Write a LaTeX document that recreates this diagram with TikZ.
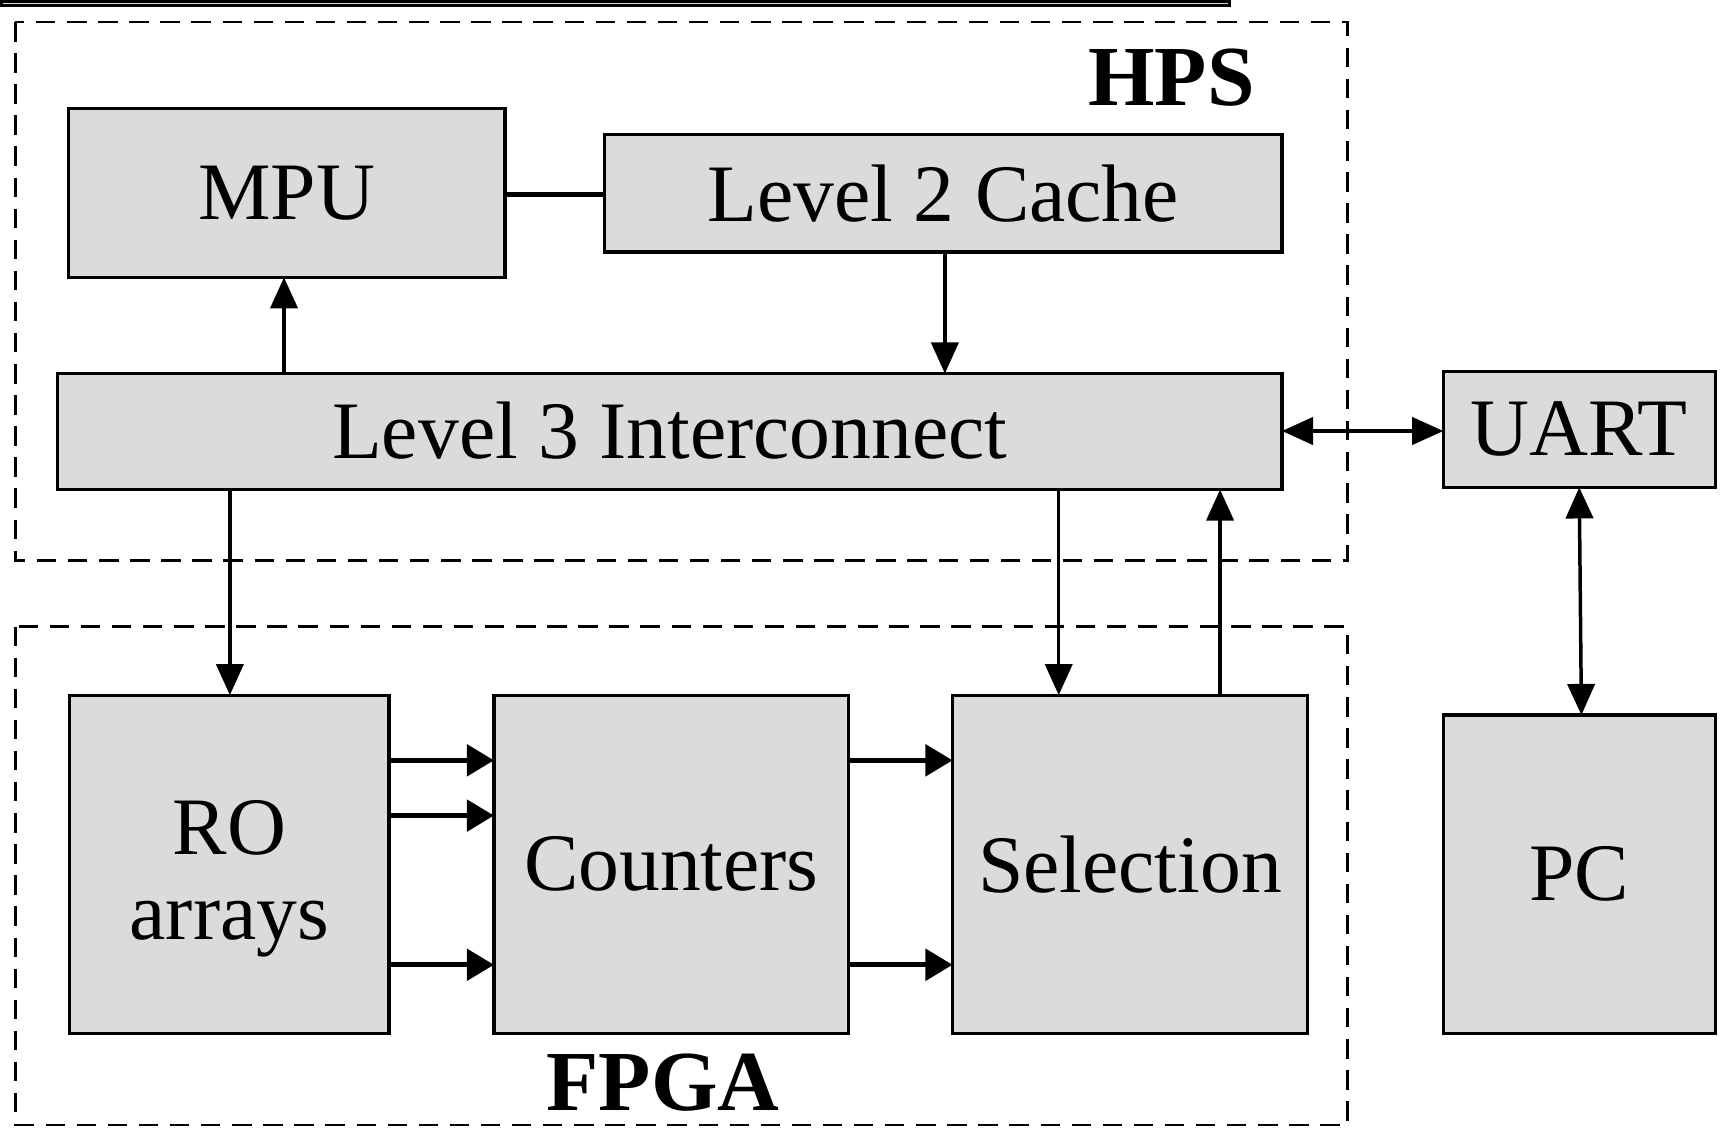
\documentclass[tikz,border=0pt]{standalone}
\usepackage{fontspec}
\setmainfont{Liberation Serif}
\usetikzlibrary{arrows.meta}
\begin{document}
\begin{tikzpicture}[x=0.01cm,y=-0.01cm,
 box/.style={draw,fill=gray!28,line width=0.8pt,font=\fontsize{21}{24}\selectfont,align=center,inner sep=0},
 grp/.style={draw,dashed,line width=0.7pt,dash pattern=on 5pt off 3pt},
 arr/.style={line width=0.9pt,-{Triangle[length=8pt,width=7pt]}},
 darr/.style={line width=0.9pt,{Triangle[length=8pt,width=7pt]}-{Triangle[length=8pt,width=7pt]}},
 barr/.style={line width=1.4pt,-{Triangle[length=7pt,width=8pt]}},
 lbl/.style={font=\fontsize{22}{24}\selectfont\bfseries}]
\useasboundingbox (0,0) rectangle (1560,1028);
\draw[grp] (14,20) rectangle (1219,507);
\draw[grp] (14,567) rectangle (1219,1018);
\node[lbl] (hps) at (1060,70) {HPS};
\node[lbl] (fpga) at (600,980) {FPGA};
\node[box,minimum width=395\pgflinewidth,anchor=north west] at (0,0) {};
\path[box] (62,98) rectangle (457,251); \node[box,draw=none,fill=none] (MPU) at (259.5,174.5) {MPU};
\path (62,98) coordinate (MPUnw) (457,251) coordinate (MPUse);
\draw[box] (62,98) rectangle (457,251);
\node[font=\fontsize{21}{24}\selectfont] at (259.5,174.5) {MPU};
\draw[box] (547,122) rectangle (1160,228); \node[font=\fontsize{21}{24}\selectfont] (L2) at (853.5,175) {Level 2 Cache};
\draw[box] (52,338) rectangle (1160,443); \node[font=\fontsize{21}{24}\selectfont] (L3) at (606,390) {Level 3 Interconnect};
\draw[box] (1306,336) rectangle (1552,441); \node[font=\fontsize{21}{24}\selectfont] (UART) at (1429,388) {UART};
\draw[box] (1306,647) rectangle (1552,935); \node[font=\fontsize{21}{24}\selectfont] (PC) at (1429,791) {PC};
\draw[box] (63,629) rectangle (352,935); \node[font=\fontsize{21}{24}\selectfont,align=center] (RO) at (207.5,795) {RO\\[-2pt]arrays};
\draw[box] (447,629) rectangle (768,935); \node[font=\fontsize{21}{24}\selectfont] (CNT) at (607.5,782) {Counters};
\draw[box] (862,629) rectangle (1183,935); \node[font=\fontsize{21}{24}\selectfont] (SEL) at (1022.5,782) {Selection};
\draw[line width=1.2pt] (457,176) -- (547,176);
\draw[arr] (257,338) -- (257,251);
\draw[arr] (855,228) -- (855,338);
\draw[darr] (1160,390) -- (1306,390);
\draw[arr] (208,443) -- (208,629);
\draw[arr] (958,443) -- (958,629);
\draw[arr] (1104,629) -- (1104,443);
\draw[darr] (1429,441) -- (1431,647);
\foreach \y in {688,738,873} \draw[barr] (352,\y) -- (447,\y);
\foreach \y in {688,873} \draw[barr] (768,\y) -- (862,\y);
\end{tikzpicture}
\end{document}
